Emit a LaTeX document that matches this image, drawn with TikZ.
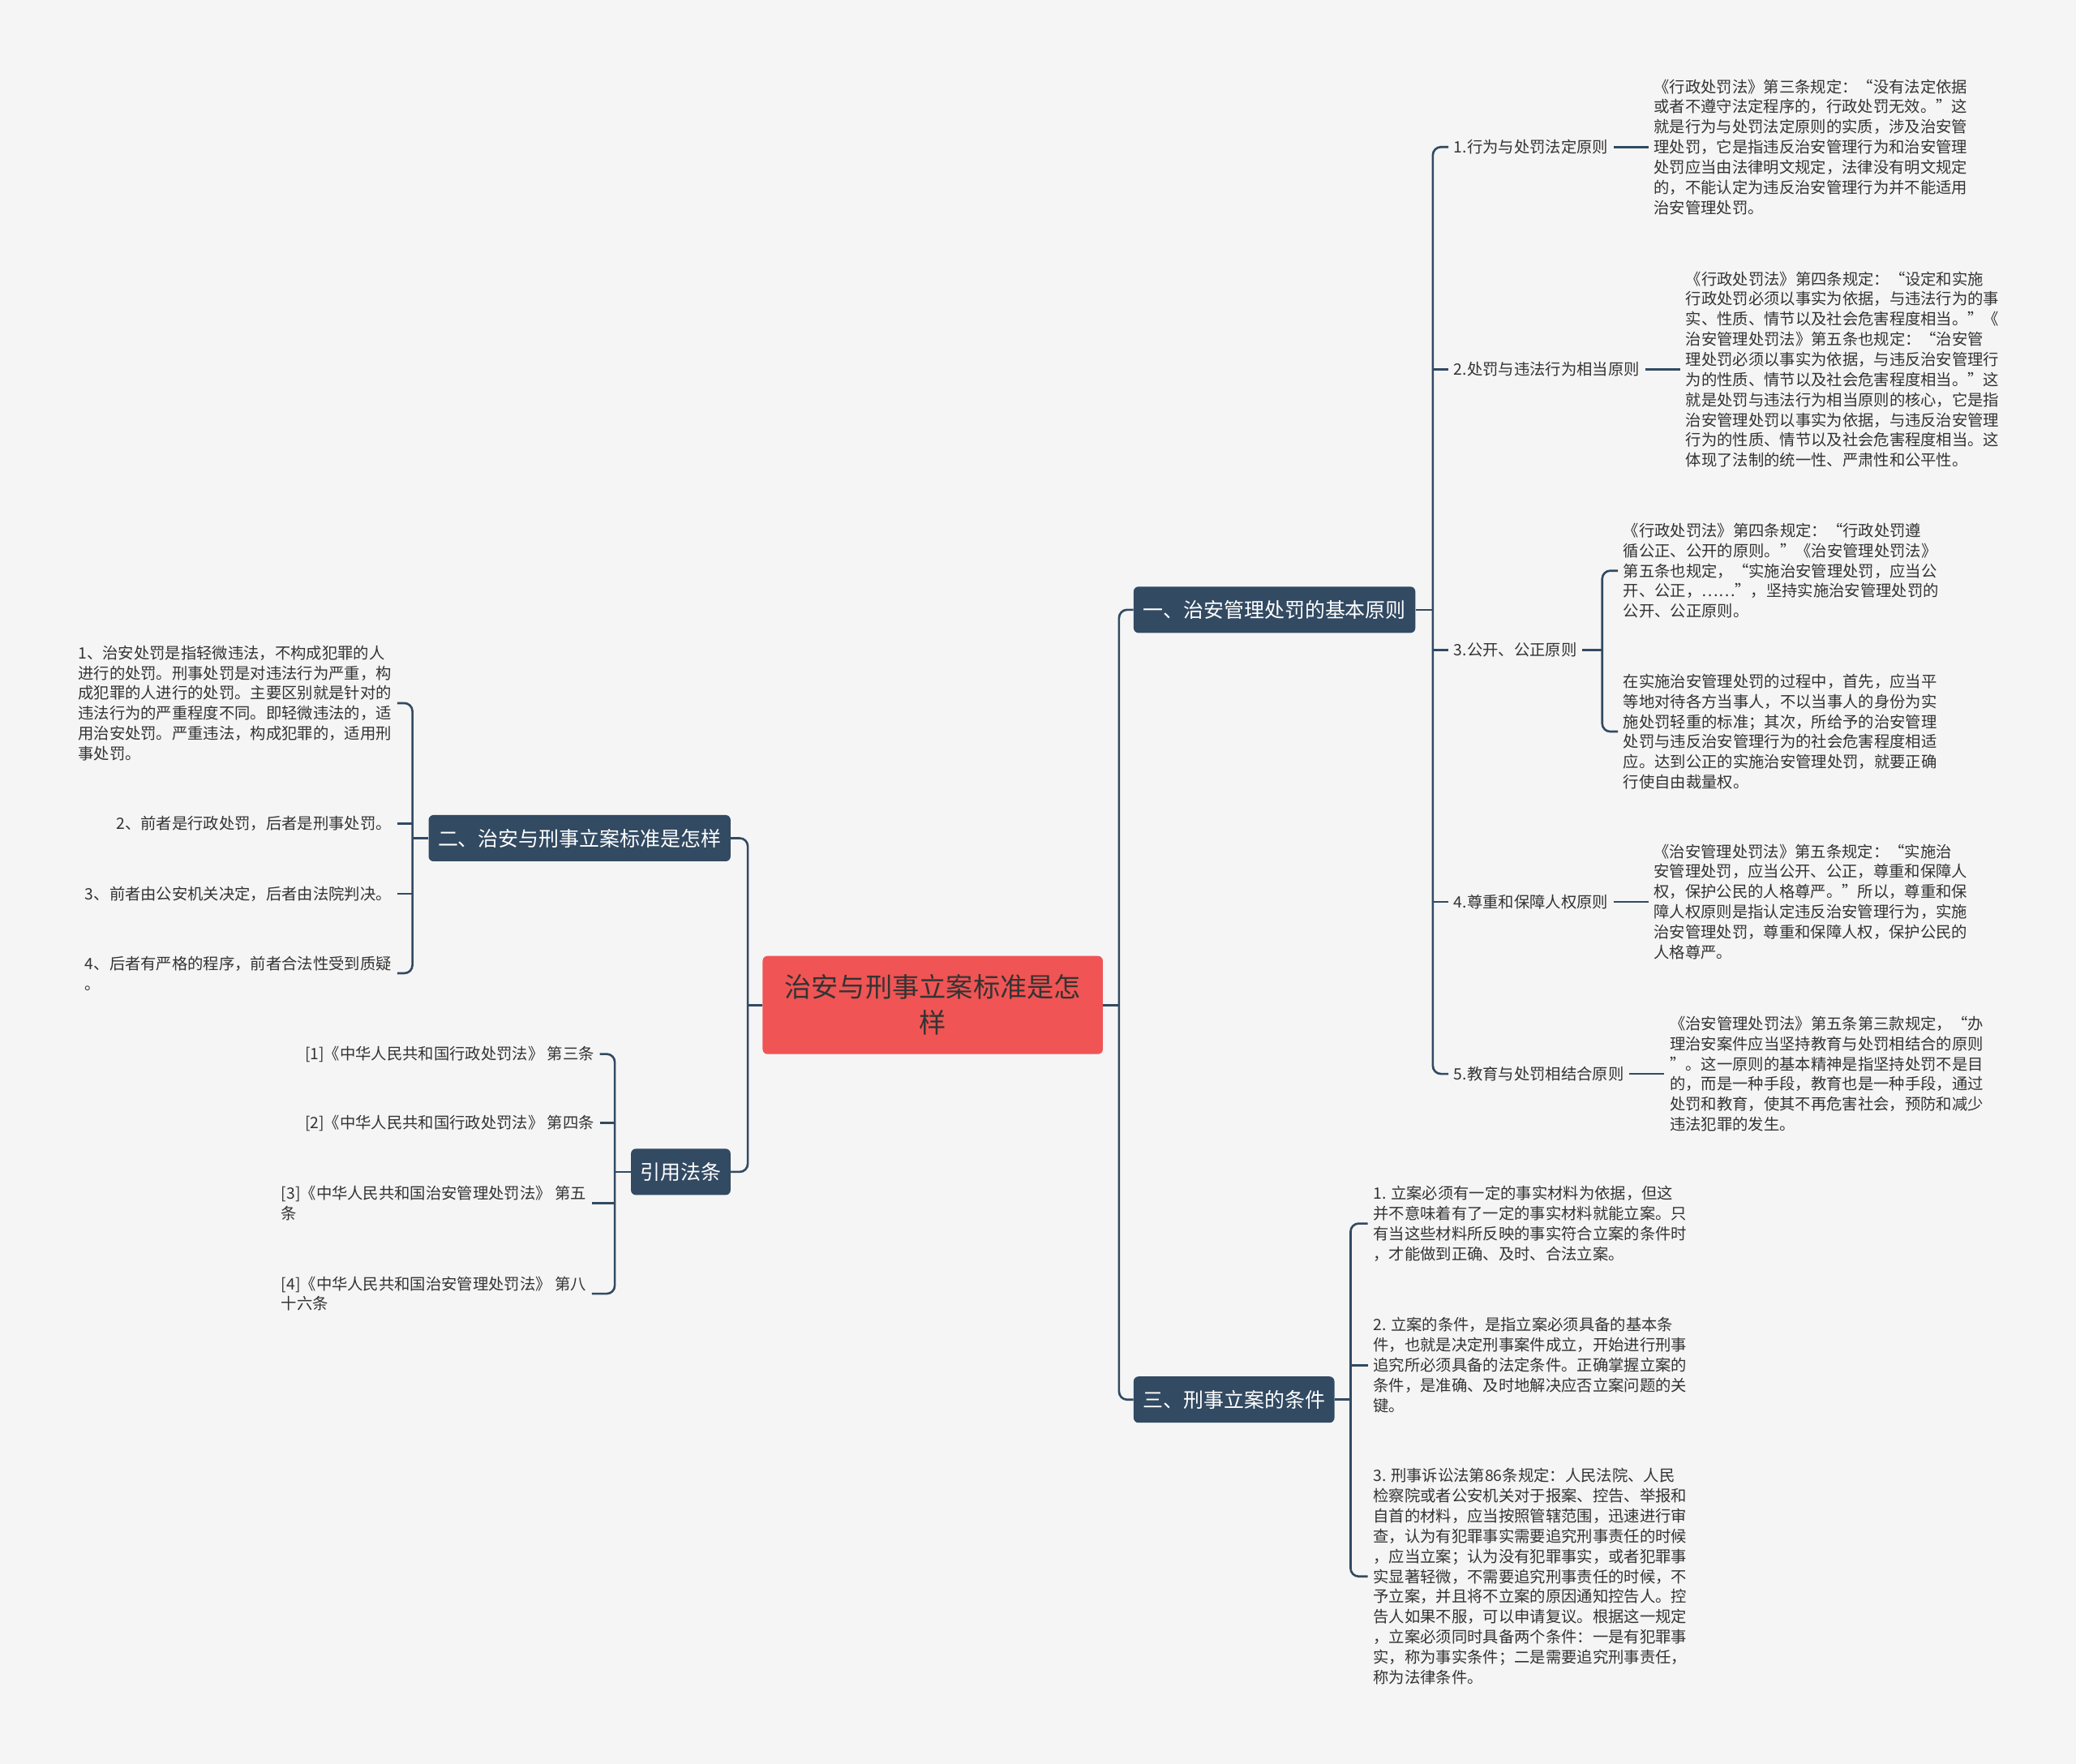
\documentclass[tikz,border=0pt]{standalone}
\usepackage{fontspec}
\setmainfont{Noto Sans CJK SC}
\usepackage{tikz}
\definecolor{bgray}{RGB}{245,245,245}
\definecolor{navy}{RGB}{50,74,98}
\definecolor{rootred}{RGB}{240,84,84}
\definecolor{txt}{RGB}{51,51,51}
\newcommand{\detailfont}{\fontsize{11}{14.15}\selectfont}
\tikzset{
  rootbox/.style={fill=rootred, text=txt, rounded corners=0.12cm, align=center,
    minimum width=8.39cm, minimum height=2.42cm, font=\fontsize{18.9}{25}\selectfont},
  topic/.style={fill=navy, text=white, rounded corners=0.12cm, inner xsep=0.23cm,
    minimum height=1.14cm, font=\fontsize{14.2}{17}\selectfont},
  detail/.style={text=txt, align=left, inner sep=0.13cm, font=\detailfont},
  link/.style={draw=navy, line width=1.5pt, rounded corners=0.2cm}
}

\begin{document}
\begin{tikzpicture}[x=0.032653cm, y=-0.032653cm]

\fill[bgray] (0,0) rectangle (1568,1332);

\node[rootbox] (root) at (704.5,759) {治安与刑事立案标准是怎\\样};
\node[topic, anchor=west] (one) at (856,460.5) {一、治安管理处罚的基本原则};
\node[topic, anchor=east] (two) at (552,633) {二、治安与刑事立案标准是怎样};
\node[topic, anchor=east] (cite) at (552,885) {引用法条};
\node[topic, anchor=west] (three) at (856,1057) {三、刑事立案的条件};

\path (root.east) ++(12,0) coordinate (rj);
\path (root.west) ++(-11,0) coordinate (lj);
\draw[link] (root.east) -- (rj);
\draw[link] (root.west) -- (lj);
\draw[link] (one.west) -| (rj) |- (three.west);
\draw[link] (two.east) -| (lj) |- (cite.east);

\foreach \n/\y/\t in {c1/111/{1.行为与处罚法定原则}, c2/279/{2.处罚与违法行为相当原则},
  c3/491/{3.公开、公正原则}, c4/681/{4.尊重和保障人权原则}, c5/811/{5.教育与处罚相结合原则}}
  \node[detail, anchor=west] (\n) at (1094,\y) {\t};

\node[detail, anchor=west] (d1) at (1245,111) {《行政处罚法》第三条规定：“没有法定依据\\或者不遵守法定程序的，行政处罚无效。”这\\就是行为与处罚法定原则的实质，涉及治安管\\理处罚，它是指违反治安管理行为和治安管理\\处罚应当由法律明文规定，法律没有明文规定\\的，不能认定为违反治安管理行为并不能适用\\治安管理处罚。};
\node[detail, anchor=west] (d2) at (1269,279) {《行政处罚法》第四条规定：“设定和实施\\行政处罚必须以事实为依据，与违法行为的事\\实、性质、情节以及社会危害程度相当。”《\\治安管理处罚法》第五条也规定：“治安管\\理处罚必须以事实为依据，与违反治安管理行\\为的性质、情节以及社会危害程度相当。”这\\就是处罚与违法行为相当原则的核心，它是指\\治安管理处罚以事实为依据，与违反治安管理\\行为的性质、情节以及社会危害程度相当。这\\体现了法制的统一性、严肃性和公平性。};
\node[detail, anchor=west] (d3a) at (1222,431) {《行政处罚法》第四条规定：“行政处罚遵\\循公正、公开的原则。”《治安管理处罚法》\\第五条也规定，“实施治安管理处罚，应当公\\开、公正，……”，坚持实施治安管理处罚的\\公开、公正原则。};
\node[detail, anchor=west] (d3b) at (1222,552.5) {在实施治安管理处罚的过程中，首先，应当平\\等地对待各方当事人，不以当事人的身份为实\\施处罚轻重的标准；其次，所给予的治安管理\\处罚与违反治安管理行为的社会危害程度相适\\应。达到公正的实施治安管理处罚，就要正确\\行使自由裁量权。};
\node[detail, anchor=west] (d4) at (1245,681) {《治安管理处罚法》第五条规定：“实施治\\安管理处罚，应当公开、公正，尊重和保障人\\权，保护公民的人格尊严。”所以，尊重和保\\障人权原则是指认定违反治安管理行为，实施\\治安管理处罚，尊重和保障人权，保护公民的\\人格尊严。};
\node[detail, anchor=west] (d5) at (1257,811) {《治安管理处罚法》第五条第三款规定，“办\\理治安案件应当坚持教育与处罚相结合的原则\\”。这一原则的基本精神是指坚持处罚不是目\\的，而是一种手段，教育也是一种手段，通过\\处罚和教育，使其不再危害社会，预防和减少\\违法犯罪的发生。};

\path (one.east) ++(13,0) coordinate (oj);
\draw[link] (one.east) -- (oj);
\draw[link] (c1.west) -| (oj) |- (c5.west);
\foreach \n in {c2,c3,c4}
  \draw[link] (\n.west) -- (\n.west -| oj);
\foreach \a/\b in {c1/d1, c2/d2, c4/d4, c5/d5}
  \draw[link] (\a.east) -- (\b.west);
\path (c3.east) ++(15,0) coordinate (bj);
\draw[link] (c3.east) -- (bj);
\draw[link] (d3a.west) -| (bj) |- (d3b.west);

\node[detail, anchor=west] (b1) at (1033,924) {1. 立案必须有一定的事实材料为依据，但这\\并不意味着有了一定的事实材料就能立案。只\\有当这些材料所反映的事实符合立案的条件时\\，才能做到正确、及时、合法立案。};
\node[detail, anchor=west] (b2) at (1033,1031) {2. 立案的条件，是指立案必须具备的基本条\\件，也就是决定刑事案件成立，开始进行刑事\\追究所必须具备的法定条件。正确掌握立案的\\条件，是准确、及时地解决应否立案问题的关\\键。};
\node[detail, anchor=west] (b3) at (1033,1190.5) {3. 刑事诉讼法第86条规定：人民法院、人民\\检察院或者公安机关对于报案、控告、举报和\\自首的材料，应当按照管辖范围，迅速进行审\\查，认为有犯罪事实需要追究刑事责任的时候\\，应当立案；认为没有犯罪事实，或者犯罪事\\实显著轻微，不需要追究刑事责任的时候，不\\予立案，并且将不立案的原因通知控告人。控\\告人如果不服，可以申请复议。根据这一规定\\，立案必须同时具备两个条件：一是有犯罪事\\实，称为事实条件；二是需要追究刑事责任，\\称为法律条件。};

\path (three.east) ++(12,0) coordinate (tj);
\draw[link] (three.east) -- (tj);
\draw[link] (b1.west) -| (tj) |- (b3.west);
\draw[link] (b2.west) -- (b2.west -| tj);

\node[detail, anchor=east] (l1) at (300,531) {1、治安处罚是指轻微违法，不构成犯罪的人\\进行的处罚。刑事处罚是对违法行为严重，构\\成犯罪的人进行的处罚。主要区别就是针对的\\违法行为的严重程度不同。即轻微违法的，适\\用治安处罚。严重违法，构成犯罪的，适用刑\\事处罚。};
\node[detail, anchor=east] (l2) at (300,622) {2、前者是行政处罚，后者是刑事处罚。};
\node[detail, anchor=east] (l3) at (300,675) {3、前者由公安机关决定，后者由法院判决。};
\node[detail, anchor=east] (l4) at (300,735) {4、后者有严格的程序，前者合法性受到质疑\\。};

\path (two.west) ++(-12,0) coordinate (wj);
\draw[link] (two.west) -- (wj);
\draw[link] (l1.east) -| (wj) |- (l4.east);
\foreach \n in {l2,l3}
  \draw[link] (\n.east) -- (\n.east -| wj);

\node[detail, anchor=east] (r1) at (453,796) {[1]《中华人民共和国行政处罚法》 第三条};
\node[detail, anchor=east] (r2) at (453,848) {[2]《中华人民共和国行政处罚法》 第四条};
\node[detail, anchor=east] (r3) at (447,908.5) {[3]《中华人民共和国治安管理处罚法》 第五\\条};
\node[detail, anchor=east] (r4) at (447,977) {[4]《中华人民共和国治安管理处罚法》 第八\\十六条};

\path (cite.west) ++(-12,0) coordinate (kj);
\draw[link] (cite.west) -- (kj);
\draw[link] (r1.east) -| (kj) |- (r4.east);
\foreach \n in {r2,r3}
  \draw[link] (\n.east) -- (\n.east -| kj);

\end{tikzpicture}
\end{document}
